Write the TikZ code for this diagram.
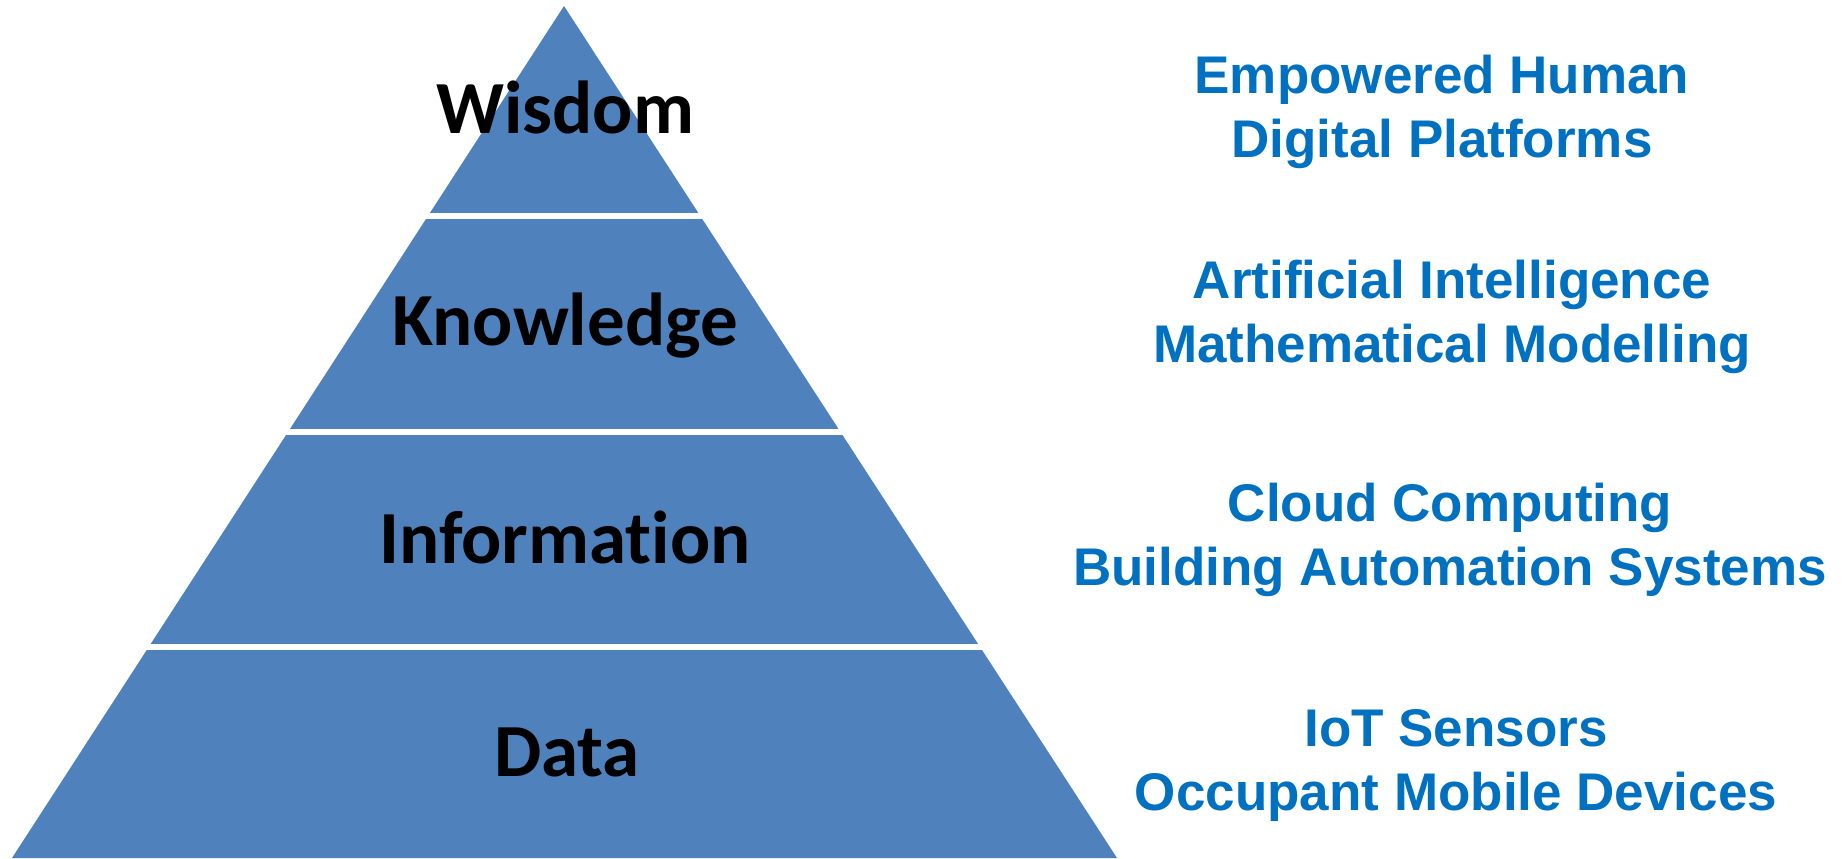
\documentclass[tikz,border=0pt]{standalone}
\usepackage{fontspec}
\setmainfont[Ligatures=NoCommon]{Liberation Sans}
\newfontfamily\carlito[Ligatures=NoCommon]{Carlito}
\usetikzlibrary{calc}

\definecolor{pyrblue}{HTML}{4F81BD}
\definecolor{tagblue}{HTML}{0070C0}

\begin{document}
\begin{tikzpicture}[x=1pt,y=-1pt,
      level/.style={font=\carlito\bfseries\fontsize{75}{90}\selectfont,anchor=base,inner sep=0pt},
      tag/.style={font=\bfseries\fontsize{53}{64}\selectfont,text=tagblue,align=center,anchor=base,inner sep=0pt}]
      \useasboundingbox[fill=white] (0,0) rectangle (1845,859);
      % pyramid, cut into four bands
      \coordinate (top) at (564,6);
      \coordinate (bl) at (12,858);
      \coordinate (br) at (1117,858);
      \fill[pyrblue] (top) -- (bl) -- (br) -- cycle;
      \foreach \t in {0.246,0.5,0.752}
        \draw[white,line width=6pt,shorten <=-5pt,shorten >=-5pt] ($(top)!\t!(bl)$) -- ($(top)!\t!(br)$);
      \node[level] (wisdom) at (565,133) {Wisdom};
      \node[level] (knowledge) at (565,345) {Knowledge};
      \node[level] (information) at (565,563) {Information};
      \node[level] (data) at (567,776) {Data};
      % what drives each level (base = last line)
      \node[tag] (human) at (1442,157) {Empowered Human\\Digital Platforms};
      \node[tag] (ai) at (1452,362) {Artificial Intelligence\\Mathematical Modelling};
      \node[tag] (cloud) at (1450,585) {Cloud Computing\\Building Automation Systems};
      \node[tag] (iot) at (1456,810) {IoT Sensors\\Occupant Mobile Devices};
    \end{tikzpicture}
\end{document}
